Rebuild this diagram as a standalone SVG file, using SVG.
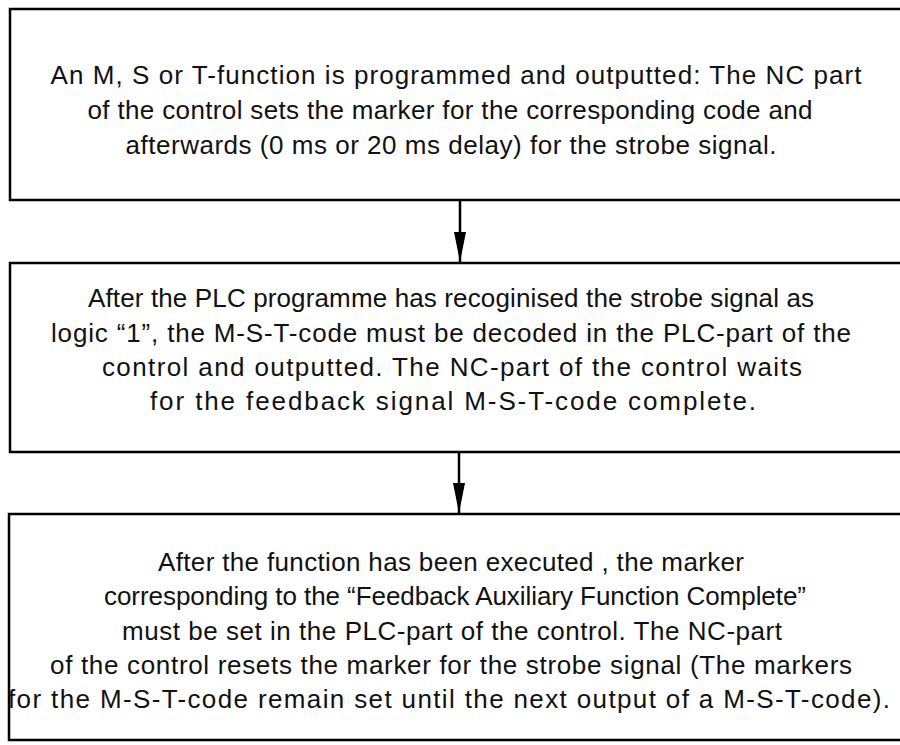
<svg xmlns="http://www.w3.org/2000/svg" width="900" height="745" viewBox="0 0 900 745">
<style>
.box{fill:none;stroke:#000;stroke-width:2.5}
.t{font-family:"Liberation Sans",Arial,sans-serif;font-size:26px;fill:#111;text-anchor:middle}
.conn{stroke:#000;stroke-width:2.5;fill:none}
</style>
<defs>
<marker id="ah" markerUnits="userSpaceOnUse" markerWidth="32" markerHeight="14" refX="30" refY="7" orient="auto" viewBox="0 0 32 14">
<path d="M0,1 L30,7 L0,13 Z" fill="#000"/>
</marker>
</defs>
<rect width="900" height="745" fill="#fff"/>
<g id="box1">
<rect class="box" x="10" y="9" width="900" height="191"/>
<text class="t" x="456" y="84" textLength="811" lengthAdjust="spacing">An M, S or T-function is programmed and outputted: The NC part</text>
<text class="t" x="450" y="119" textLength="725" lengthAdjust="spacing">of the control sets the marker for the corresponding code and</text>
<text class="t" x="451" y="154" textLength="651" lengthAdjust="spacing">afterwards (0 ms or 20 ms delay) for the strobe signal.</text>
</g>
<g id="box2">
<rect class="box" x="10" y="263" width="900" height="189"/>
<text class="t" x="451" y="307" textLength="726" lengthAdjust="spacing">After the PLC programme has recoginised the strobe signal as</text>
<text class="t" x="451" y="342" textLength="800" lengthAdjust="spacing">logic “1”, the M-S-T-code must be decoded in the PLC-part of the</text>
<text class="t" x="452" y="376" textLength="700" lengthAdjust="spacing">control and outputted. The NC-part of the control waits</text>
<text class="t" x="453" y="410" textLength="606" lengthAdjust="spacing">for the feedback signal M-S-T-code complete.</text>
</g>
<g id="box3">
<rect class="box" x="9" y="514" width="900" height="226"/>
<text class="t" x="451" y="571" textLength="586" lengthAdjust="spacing">After the function has been executed , the marker</text>
<text class="t" x="455" y="605" textLength="702" lengthAdjust="spacing">corresponding to the “Feedback Auxiliary Function Complete”</text>
<text class="t" x="452" y="640" textLength="660" lengthAdjust="spacing">must be set in the PLC-part of the control. The NC-part</text>
<text class="t" x="451" y="674" textLength="802" lengthAdjust="spacing">of the control resets the marker for the strobe signal (The markers</text>
<text class="t" x="449" y="708" textLength="882" lengthAdjust="spacing">for the M-S-T-code remain set until the next output of a M-S-T-code).</text>
</g>
<g id="connectors">
<line class="conn" x1="460" y1="200" x2="460" y2="262" marker-end="url(#ah)"/>
<line class="conn" x1="459" y1="452" x2="459" y2="513" marker-end="url(#ah)"/>
</g>
</svg>
